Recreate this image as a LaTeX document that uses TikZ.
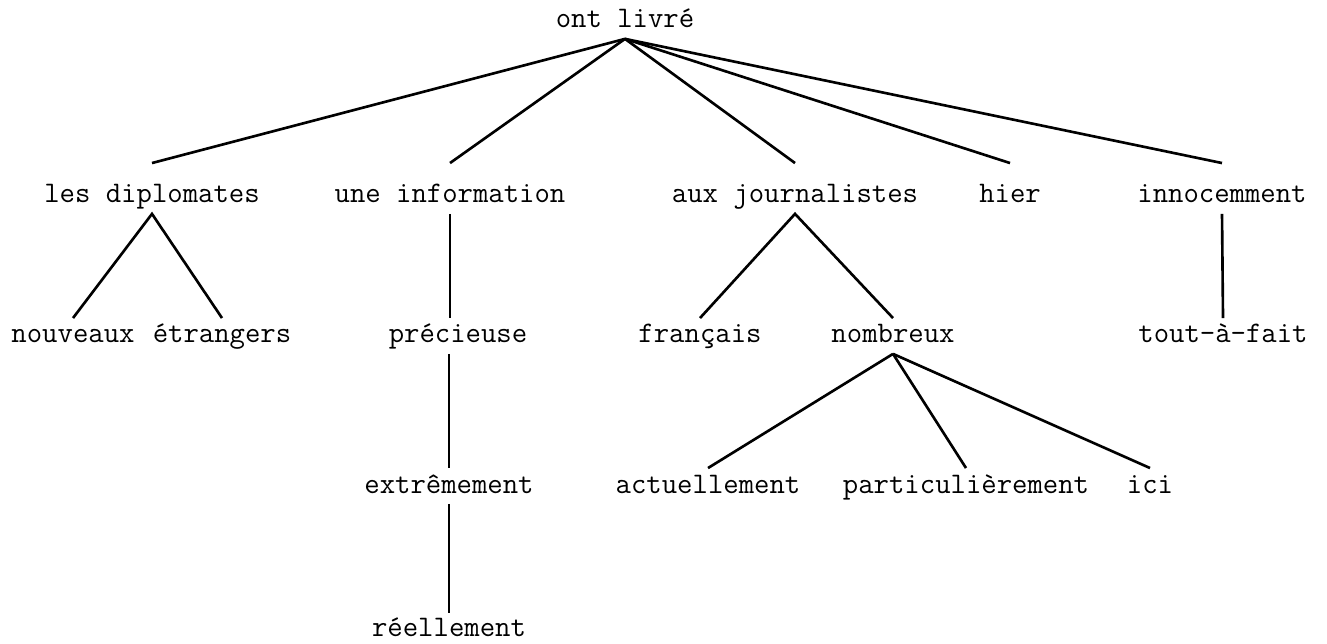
\documentclass[tikz,border=0pt]{standalone}
\usepackage{fontspec}

\begin{document}
\begin{tikzpicture}[
        x=0.02cm,y=-0.02cm,
        word/.style={font=\ttfamily\fontsize{17}{20}\selectfont,anchor=base,
            inner xsep=0pt,inner ysep=3pt,text height=11pt,text depth=3pt},
        branch/.style={line width=1.5pt,black}
    ]
        \useasboundingbox (0,0) rectangle (1327,644);

        % Define the nodes
        \node[word] (root) at (625,28) {ont livré};

        \node[word] (dipl) at (152,203) {les diplomates};
        \node[word] (info) at (450,203) {une information};
        \node[word] (journ) at (795,203) {aux journalistes};
        \node[word] (hier) at (1010,203) {hier};
        \node[word] (innoc) at (1222,203) {innocemment};

        \node[word] (nouv) at (73,343) {nouveaux};
        \node[word] (etr) at (222,343) {étrangers};
        \node[word] (prec) at (458,343) {précieuse};
        \node[word] (fran) at (700,343) {français};
        \node[word] (nomb) at (893,343) {nombreux};
        \node[word] (tout) at (1223,343) {tout-à-fait};

        \node[word] (extr) at (449,493) {extrêmement};
        \node[word] (actu) at (708,493) {actuellement};
        \node[word] (part) at (966,493) {particulièrement};
        \node[word] (ici) at (1150,493) {ici};

        \node[word,text depth=0pt,inner ysep=2pt] (reel) at (449,636) {réellement};

        % Draw the branches
        \foreach \n in {dipl,info,journ,hier,innoc}
            \draw[branch] (root.south) -- ([yshift=0.3cm]\n.north);
        \draw[branch] (nouv.north) -- (dipl.south) -- (etr.north);
        \draw[branch] (info.south) -- (info.south |- prec.north);
        \draw[branch] (extr.north |- prec.south) -- (extr.north);
        \draw[branch] (extr.south) -- (reel.north);
        \draw[branch] (fran.north) -- (journ.south) -- (nomb.north);
        \foreach \n in {actu,part,ici}
            \draw[branch] (nomb.south) -- (\n.north);
        \draw[branch] (innoc.south) -- (tout.north);
    \end{tikzpicture}
\end{document}
